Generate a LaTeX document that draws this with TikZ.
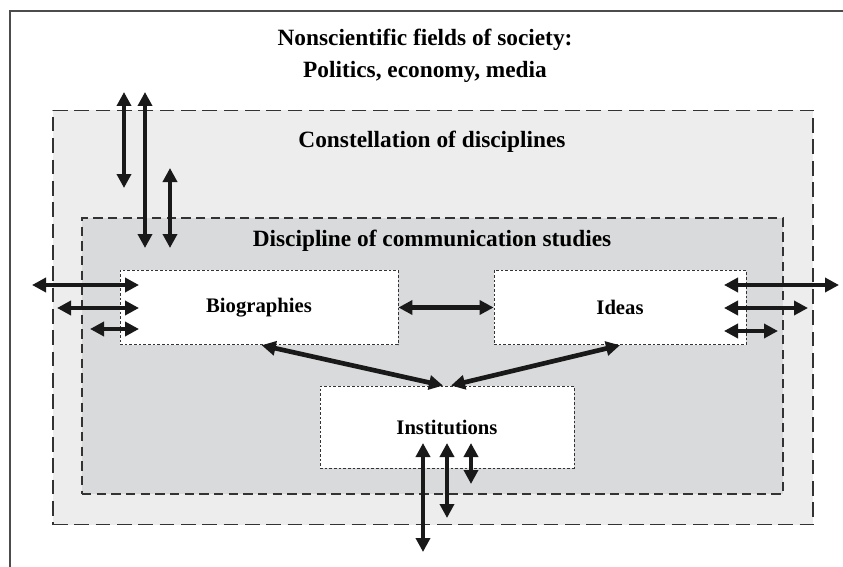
\documentclass[tikz,border=0pt]{standalone}
\usepackage{fontspec}
\setmainfont{Liberation Serif}
\usepackage{tikz}
\usepackage{xcolor}
\usetikzlibrary{arrows.meta}

\definecolor{constgray}{RGB}{237,237,237}
\definecolor{discgray}{RGB}{217,218,219}

\begin{document}
\begin{tikzpicture}[x=0.75pt,y=0.75pt,yscale=-1,xscale=1,
  font=\fontsize{15.5}{18}\selectfont\bfseries,
  >={Triangle[length=10.5pt,width=10.5pt]},
  twoway/.style={<->,line width=3.5pt,color=black!90},
  headtext/.style={font=\fontsize{17.5}{24}\selectfont\bfseries},
  constbox/.style={draw=black!80,fill=constgray,line width=0.8pt,dash pattern=on 11pt off 5pt},
  discbox/.style={draw=black!80,fill=discgray,line width=0.8pt,dash pattern=on 7pt off 4pt},
  topicbox/.style={draw=black!80,fill=white,line width=0.6pt,dash pattern=on 2pt off 1.5pt}]
\useasboundingbox (0,0) rectangle (843,567);

%outer frame, cut off at right and bottom
\draw [line width=1pt,color=black!70] (10,567) -- (10,11) -- (843,11) ;

% Text Node
\node (society) at (425,56) [headtext,align=center] {Nonscientific fields of society:\\ Politics, economy, media};

%Shape: Rectangle [id:constellation]
\node (constellation) at (433,317.5) [constbox,minimum width=570pt,minimum height=311pt] {};
% Text Node
\node (constlabel) at (432,142) [headtext] {Constellation of disciplines};

%Shape: Rectangle [id:discipline]
\node (discipline) at (432.5,356) [discbox,minimum width=525.75pt,minimum height=207pt] {};
% Text Node
\node (disclabel) at (432,241) [headtext] {Discipline of communication studies};

%Topic boxes
\node (bio) at (259,307.5) [topicbox,minimum width=208.5pt,minimum height=56pt] {Biographies};
\node (ideas) at (620,307.5) [topicbox,minimum width=189pt,minimum height=56pt] {Ideas};
\node (inst) at (447,427) [topicbox,minimum width=190.5pt,minimum height=61.5pt] {Institutions};

%free arrow ends
\coordinate (up1) at (124,92) ; \coordinate (dn1) at (124,188) ;
\coordinate (up2) at (145,92) ; \coordinate (dn2) at (145,248) ;
\coordinate (up3) at (170,168) ; \coordinate (dn3) at (170,248) ;
\coordinate (lw1) at (32,285) ; \coordinate (le1) at (139,285) ;
\coordinate (lw2) at (57,308) ; \coordinate (le2) at (139,308) ;
\coordinate (lw3) at (90,329) ; \coordinate (le3) at (139,329) ;
\coordinate (rw1) at (724,285) ; \coordinate (re1) at (839,285) ;
\coordinate (rw2) at (724,308) ; \coordinate (re2) at (808,308) ;
\coordinate (rw3) at (724,331) ; \coordinate (re3) at (778,331) ;
\coordinate (bn1) at (423,443) ; \coordinate (bs1) at (423,552) ;
\coordinate (bn2) at (447,443) ; \coordinate (bs2) at (447,518) ;
\coordinate (bn3) at (471,443) ; \coordinate (bs3) at (471,484) ;

%Straight Lines: to the top
\draw [twoway] (up1) -- (dn1) ;
\draw [twoway] (up2) -- (dn2) ;
\draw [twoway] (up3) -- (dn3) ;
%Straight Lines: to the left
\draw [twoway] (lw1) -- (le1) ;
\draw [twoway] (lw2) -- (le2) ;
\draw [twoway] (lw3) -- (le3) ;
%Straight Lines: to the right
\draw [twoway] (rw1) -- (re1) ;
\draw [twoway] (rw2) -- (re2) ;
\draw [twoway] (rw3) -- (re3) ;
%Straight Lines: to the bottom
\draw [twoway] (bn1) -- (bs1) ;
\draw [twoway] (bn2) -- (bs2) ;
\draw [twoway] (bn3) -- (bs3) ;

%Straight Lines: between the topics
\draw [twoway] (bio.east) -- (ideas.west) ;
\draw [twoway] ([xshift=2pt]bio.south) -- ([xshift=-3pt]inst.north) ;
\draw [twoway] (ideas.south) -- ([xshift=3pt]inst.north) ;
\end{tikzpicture}
\end{document}
